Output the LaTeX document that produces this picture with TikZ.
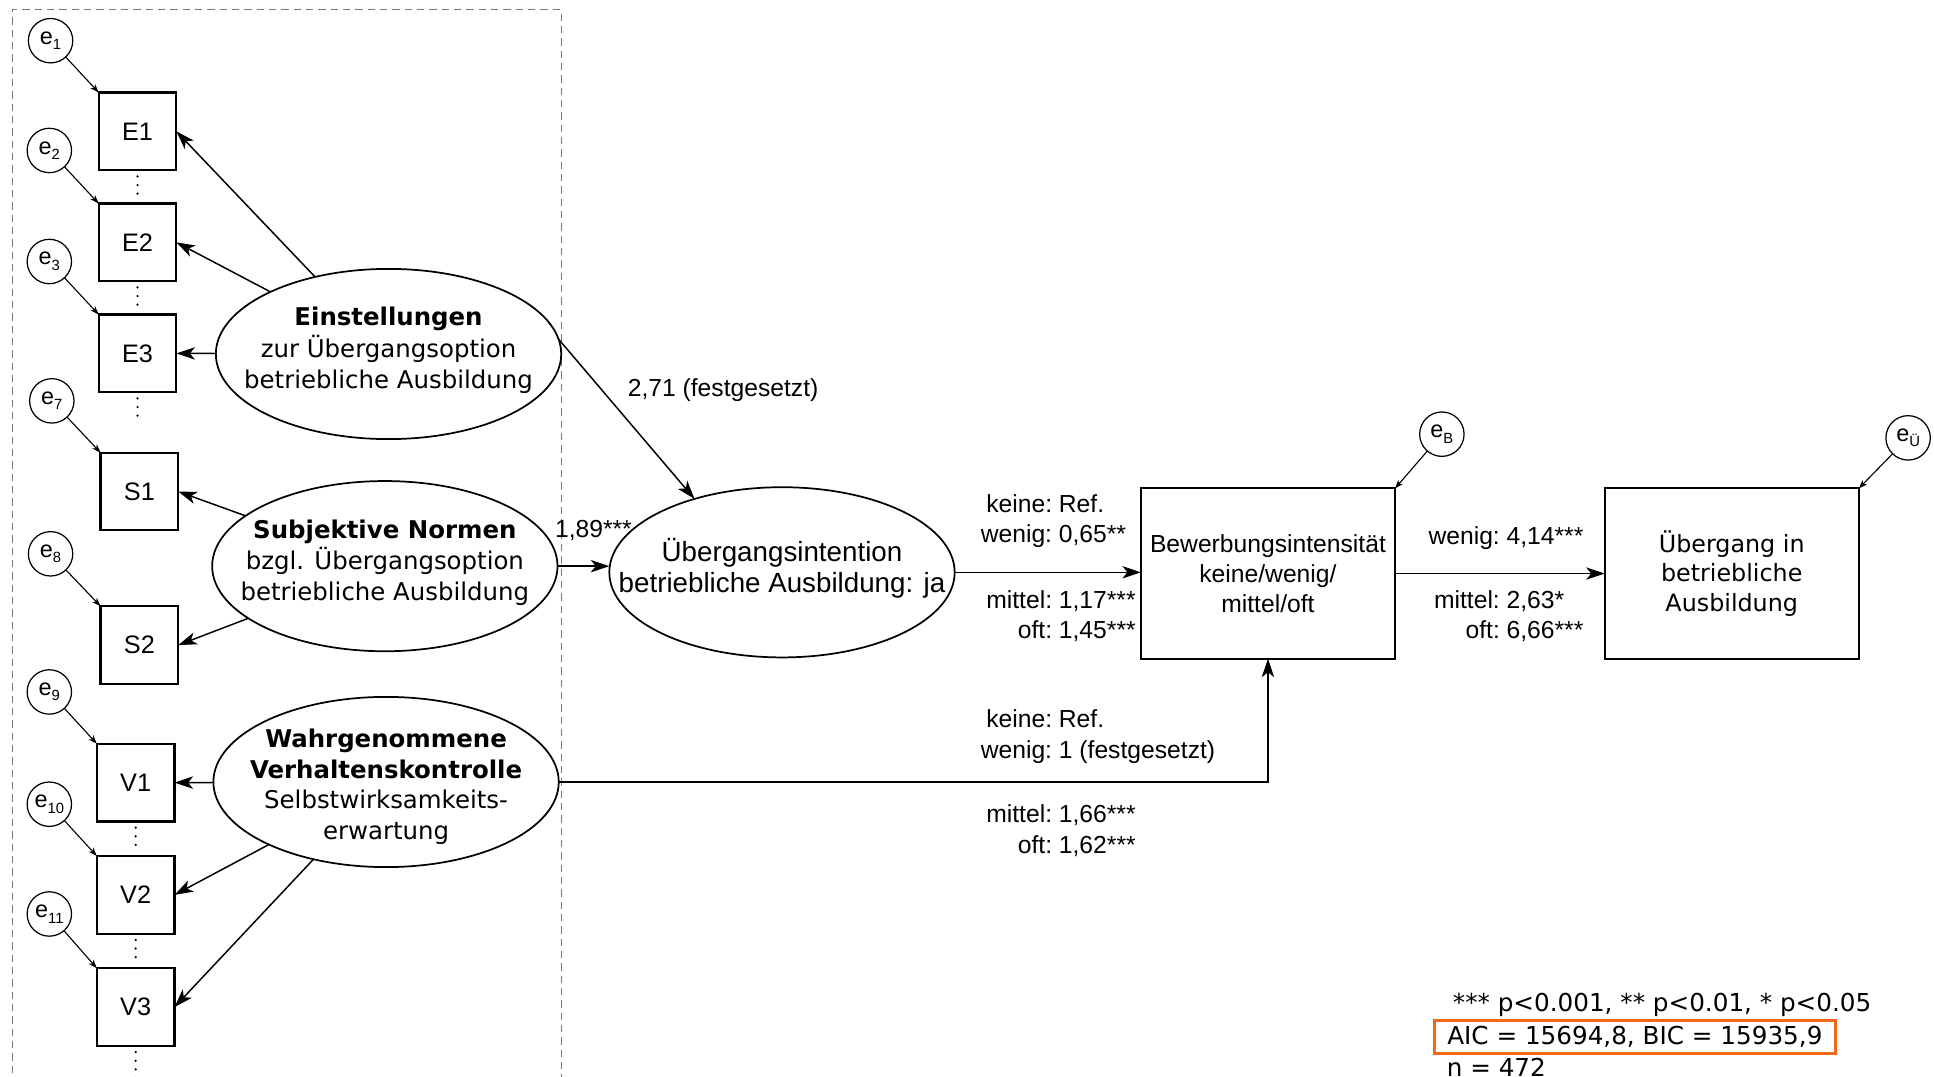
\documentclass[tikz,border=0pt]{standalone}
\usepackage{fontspec}
\setmainfont{Liberation Sans}
\newfontfamily\dvs{DejaVu Sans}
\usetikzlibrary{shapes.geometric,arrows.meta,calc}

\definecolor{frame}{RGB}{120,120,120}
\definecolor{orng}{RGB}{240,105,25}

% error term label: e with a small subscript
\newcommand\esub[1]{e\raisebox{-0.45ex}{\fontsize{12}{12}\selectfont #1}}
% coefficient line with the colons aligned
\newcommand\kv[2]{\makebox[70pt][r]{#1:}\hspace{5.5pt}#2}
% centred lines that do not enlarge the shape around them
\newcommand\inside[2][-6pt]{\raisebox{#1}{\makebox[0pt]{\smash{\begin{tabular}{@{}c@{}}#2\end{tabular}}}}}

\begin{document}
\begin{tikzpicture}[x=1pt,y=-1pt,
  every node/.style={inner sep=0pt, outer sep=0pt},
  lbl/.style={font=\fontsize{20}{25}\selectfont, align=left},
  ind/.style={draw, line width=1.7pt, minimum width=63pt, minimum height=63pt,
    font=\fontsize{20.5}{25}\selectfont},
  lat/.style={draw, ellipse, line width=1.4pt, minimum width=280pt, minimum height=138pt,
    font=\dvs\fontsize{19.8}{25}\selectfont},
  obs/.style={draw, line width=1.7pt, minimum width=206pt, minimum height=138pt,
    align=center, font=\fontsize{20}{24.5}\selectfont},
  err/.style={draw, circle, line width=1pt, minimum size=36pt, font=\fontsize{19}{20}\selectfont},
  arr/.style={line width=1.2pt, -{Stealth[length=15pt,width=10pt,inset=4pt]}},
  earr/.style={line width=0.9pt, -{Stealth[length=7pt,width=5pt,inset=2pt]}},
  dots/.style={line width=2pt, dash pattern=on 0pt off 7pt, line cap=round,
    shorten <=5pt, shorten >=5pt},
  note/.style={font=\dvs\fontsize{20}{25}\selectfont}
]
\useasboundingbox (0,0) rectangle (1568,873);

% measurement-model frame
\draw[frame, line width=1pt, dash pattern=on 6pt off 4pt] (10,880) -- (10,8) -- (455,8) -- (455,880);

% indicators
\node[ind] (E1) at (111.5,106.5) {E1};
\node[ind] (E2) at (111.5,196.5) {E2};
\node[ind] (E3) at (111.5,286.5) {E3};
\node[ind] (S1) at (113,398.5) {S1};
\node[ind] (S2) at (113,523) {S2};
\node[ind] (V1) at (110,634.5) {V1};
\node[ind] (V2) at (110,725.5) {V2};
\node[ind] (V3) at (110,816.5) {V3};

% omitted indicators
\coordinate (E3end) at (111.5,347);
\coordinate (V3end) at (110,880);
\draw[dots] (E1.south) -- (E2.north);
\draw[dots] (E2.south) -- (E3.north);
\draw[dots] (E3.south) -- (E3end);
\draw[dots] (V1.south) -- (V2.north);
\draw[dots] (V2.south) -- (V3.north);
\draw[dots] (V3.south) -- (V3end);

% error terms of the indicators
\node[err] (e1) at (41,33) {\esub{1}};
\node[err] (e2) at (40,122) {\esub{2}};
\node[err] (e3) at (40,212) {\esub{3}};
\node[err] (e7) at (42,325) {\esub{7}};
\node[err] (e8) at (41,449) {\esub{8}};
\node[err] (e9) at (40,561) {\esub{9}};
\node[err] (e10) at (40,652) {\esub{10}};
\node[err] (e11) at (40,741) {\esub{11}};
\draw[earr] (e1) -- (E1.north west);
\draw[earr] (e2) -- (E2.north west);
\draw[earr] (e3) -- (E3.north west);
\draw[earr] (e7) -- (S1.north west);
\draw[earr] (e8) -- (S2.north west);
\draw[earr] (e9) -- (V1.north west);
\draw[earr] (e10) -- (V2.north west);
\draw[earr] (e11) -- (V3.north west);

% latent constructs
\node[lat] (einst) at (315,287) {\inside[-5pt]{\textbf{Einstellungen}\\zur Übergangsoption\\betriebliche Ausbildung}};
\node[lat] (subj) at (312,459) {\inside{\textbf{Subjektive Normen}\\bzgl. Übergangsoption\\betriebliche Ausbildung}};
\node[lat] (wahr) at (313,634) {\inside[-19pt]{\textbf{Wahrgenommene}\\\textbf{Verhaltenskontrolle}\\Selbstwirksamkeits-\\erwartung}};

% loadings
\draw[arr] (einst) -- (E1.east);
\draw[arr] (einst) -- (E2.east);
\draw[arr] (einst) -- (E3.east);
\draw[arr] (subj) -- (S1.east);
\draw[arr] (subj) -- (S2.east);
\draw[arr] (wahr) -- (V1.east);
\draw[arr] (wahr) -- (V2.east);
\draw[arr] (wahr) -- (V3.east);

% structural model
\node[lat, font=\fontsize{22.5}{25}\selectfont] (ui) at (634,464) {\inside{Übergangsintention\\betriebliche Ausbildung: ja}};
\node[obs] (bew) at (1028,465) {Bewerbungsintensität\\keine/wenig/\\mittel/oft};
\node[obs, font=\dvs\fontsize{19.3}{24}\selectfont] (ueb) at (1404,465) {Übergang in\\betriebliche\\Ausbildung};
\node[err] (eB) at (1169,352) {\esub{B}};
\node[err] (eU) at (1547,355) {\esub{Ü}};
\draw[earr] (eB) -- (bew.north east);
\draw[earr] (eU) -- (ueb.north east);

\draw[arr] (einst.5) -- (ui.140);
\draw[arr] (subj.east) -- (subj.east -| ui.west);
\draw[arr] (ui.east) -- (ui.east -| bew.west);
\draw[arr] (bew.east) -- (bew.east -| ueb.west);
\draw[arr] (wahr.east) -| (bew.south);

% path coefficients
\node[lbl, anchor=west] (c271) at (509,316) {2,71 (festgesetzt)};
\node[lbl, anchor=west] (c189) at (450,430) {1,89***};
\node[lbl, anchor=west] (ca) at (783,422.5) {\kv{keine}{Ref.}\\\kv{wenig}{0,65**}};
\node[lbl, anchor=west] (cb) at (783,499.5) {\kv{mittel}{1,17***}\\\kv{oft}{1,45***}};
\node[lbl, anchor=west] (cc) at (783,597.5) {\kv{keine}{Ref.}\\\kv{wenig}{1 (festgesetzt)}};
\node[lbl, anchor=west] (cd) at (783,673.5) {\kv{mittel}{1,66***}\\\kv{oft}{1,62***}};
\node[lbl, anchor=west] (ce) at (1146,436) {\kv{wenig}{4,14***}};
\node[lbl, anchor=west] (cf) at (1146,499.5) {\kv{mittel}{2,63*}\\\kv{oft}{6,66***}};

% fit statistics
\node[note, anchor=west] (sig) at (1178,815) {*** p<0.001, ** p<0.01, * p<0.05};
\node[note, draw=orng, line width=2.5pt, minimum width=325pt, minimum height=27pt] (aic) at (1325.5,840.5) {AIC = 15694,8, BIC = 15935,9};
\node[note, anchor=west] (nn) at (1173,865) {n = 472};
\end{tikzpicture}
\end{document}
